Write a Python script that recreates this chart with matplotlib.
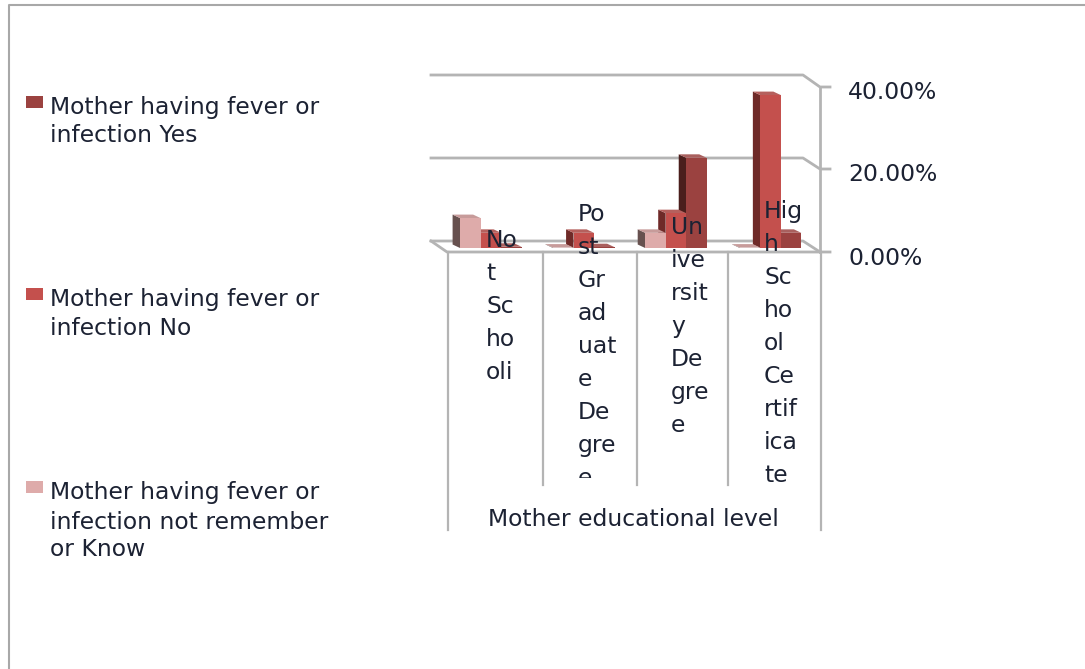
import matplotlib
matplotlib.use("Agg")
import matplotlib.pyplot as plt
from matplotlib.patches import Rectangle

plt.rcParams["font.family"] = ["DejaVu Sans"]

# values, percent
series_names = [
    "Mother having fever or\ninfection Yes",
    "Mother having fever or\ninfection No",
    "Mother having fever or\ninfection not remember\nor Know",
]
yes_values = [0.3, 0.2, 22.0, 3.7]
no_values = [3.7, 3.7, 8.5, 37.3]
not_know_values = [7.3, 0.1, 3.7, 0.1]
tick_labels = ["0.00%", "20.00%", "40.00%"]
category_lines = [
    ["No", "t", "Sc", "ho", "oli"],
    ["Po", "st", "Gr", "ad", "uat", "e", "De", "gre", "e"],
    ["Un", "ive", "rsit", "y", "De", "gre", "e"],
    ["Hig", "h", "Sc", "ho", "ol", "Ce", "rtif", "ica", "te"],
]
axis_title = "Mother educational level"

front_colors = ["#9b4240", "#c4504d", "#deabaa"]
side_colors = ["#4a1e1c", "#6f2a28", "#67514f"]
top_colors = ["#a9605e", "#b5605d", "#c79b9a"]
line_color = "#b4b4b4"
text_color = "#1c2233"

W, H = 1085, 669
fig = plt.figure(figsize=(W / 100, H / 100), dpi=100, facecolor="white")

# pixel overlay for the frame, the chart walls and all of the text
bg = fig.add_axes([0, 0, 1, 1], zorder=1)
bg.set_xlim(0, W)
bg.set_ylim(H, 0)
bg.axis("off")

bg.plot([9, 9, W], [H, 5, 5], color="#a8a8a8", lw=1.5)

# back wall, floor, right wall
for back_y, front_y in [(75, 87), (158, 169), (241, 252)]:
    bg.plot([431, 803, 820, 830], [back_y, back_y, front_y, front_y], color=line_color, lw=2)
bg.plot([431, 447, 820], [241, 252, 252], color=line_color, lw=2)
bg.plot([820, 820], [87, 252], color=line_color, lw=2)

# category table under the floor
for x in [448, 821]:
    bg.plot([x, x], [252, 530], color=line_color, lw=1.6)
for x in [543, 637, 728]:
    bg.plot([x, x], [252, 485], color=line_color, lw=1.6)

# bars on real scales: x in categories, y in percent
ax = fig.add_axes([447 / W, 1 - 248 / H, 373 / W, 164 / H], zorder=2)
ax.set_xlim(0, 4)
ax.set_ylim(0, 40)
ax.axis("off")
ax.patch.set_alpha(0)

bar_w = 0.22
depth_x = 0.08
depth_y = 0.85
group_offset = [0.14, 0.137, 0.125, 0.14]
all_values = [yes_values, no_values, not_know_values]

# right to left so the nearer bar hides the side of the next one
for j in [0, 1, 2]:
    pos = 2 - j
    for i, v in enumerate(all_values[j]):
        x = i + group_offset[i] + pos * bar_w
        ax.fill([x - depth_x, x, x, x - depth_x], [depth_y, 0, v, v + depth_y],
                color=side_colors[j], lw=0, clip_on=False, zorder=3 - pos)
        ax.fill([x - depth_x, x, x + bar_w, x + bar_w - depth_x], [v + depth_y, v, v, v + depth_y],
                color=top_colors[j], lw=0, clip_on=False, zorder=3 - pos)
        ax.bar(x, v, width=bar_w, align="edge", color=front_colors[j], lw=0, clip_on=False, zorder=3 - pos)

# text goes above the bars
txt = fig.add_axes([0, 0, 1, 1], zorder=3)
txt.set_xlim(0, W)
txt.set_ylim(H, 0)
txt.axis("off")
txt.patch.set_alpha(0)

fs = 16.9
legend_y = [(96, [114, 142]), (288, [306, 335]), (481, [499, 529, 556])]
for j, (box_y, line_ys) in enumerate(legend_y):
    txt.add_patch(Rectangle((26, box_y), 17, 12, color=front_colors[j], lw=0))
    for line, y in zip(series_names[j].split("\n"), line_ys):
        txt.text(50, y, line, fontsize=fs, color=text_color, va="baseline", ha="left")

for label, y in zip(tick_labels, [265, 181, 99]):
    txt.text(848, y, label, fontsize=fs, color=text_color, va="baseline", ha="left")

label_x = [486, 578, 671, 764]
label_y0 = [247, 221, 234, 218]
clip_bottom = [485, 478, 485, 485]
for x, y0, bottom, lines in zip(label_x, label_y0, clip_bottom, category_lines):
    clip_box = Rectangle((430, 190), 400, bottom - 190, transform=txt.transData)
    for k, line in enumerate(lines):
        t = txt.text(x, y0 + k * 33, line, fontsize=fs, color=text_color, va="baseline", ha="left", clip_on=True)
        t.set_clip_path(clip_box)

txt.text(488, 526, axis_title, fontsize=fs, color=text_color, va="baseline", ha="left")

fig.savefig("out.png", dpi=100)
